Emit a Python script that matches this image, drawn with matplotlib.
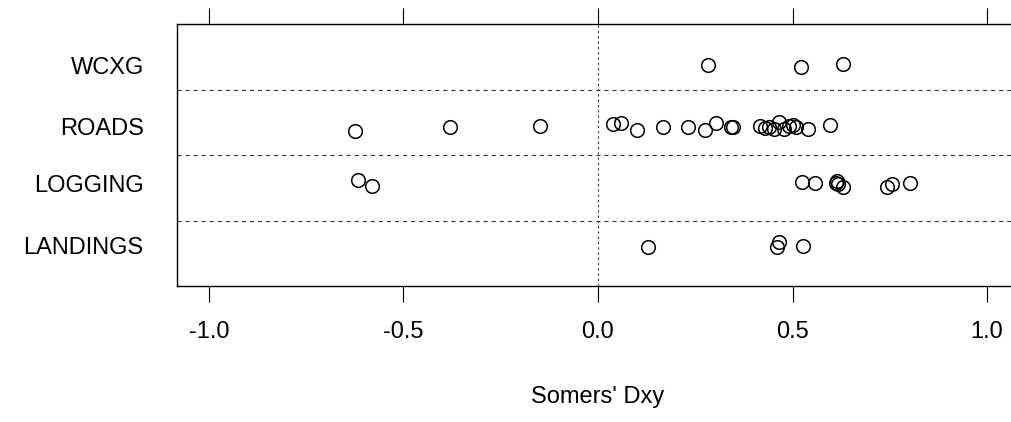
import matplotlib
matplotlib.use("Agg")
import matplotlib.pyplot as plt

# groups, top to bottom as drawn
groups = ['WCXG', 'ROADS', 'LOGGING', 'LANDINGS']
group_y = [3.37, 2.43, 1.57, 0.62]

# Somers' Dxy values and jittered row positions
wcxg_x = [0.283, 0.522, 0.630]
wcxg_y = [3.374, 3.344, 3.389]

roads_x = [-0.625, -0.380, -0.149, 0.038, 0.058, 0.100, 0.167, 0.231, 0.275,
           0.303, 0.343, 0.347, 0.416, 0.430, 0.440, 0.452, 0.465, 0.478,
           0.490, 0.500, 0.510, 0.540, 0.596]
roads_y = [2.366, 2.427, 2.443, 2.473, 2.489, 2.382, 2.427, 2.427, 2.382,
           2.489, 2.427, 2.427, 2.443, 2.412, 2.427, 2.397, 2.504, 2.397,
           2.443, 2.458, 2.427, 2.397, 2.458]

logging_x = [-0.617, -0.581, 0.524, 0.558, 0.612, 0.615, 0.618, 0.630,
             0.743, 0.756, 0.802]
logging_y = [1.618, 1.527, 1.588, 1.573, 1.573, 1.603, 1.557, 1.511,
             1.511, 1.557, 1.573]

landings_x = [0.129, 0.460, 0.466, 0.527]
landings_y = [0.595, 0.595, 0.672, 0.611]

xticks = [-1.0, -0.5, 0.0, 0.5, 1.0]

plt.rcParams['font.family'] = ['Liberation Sans', 'DejaVu Sans']
plt.rcParams['lines.scale_dashes'] = False

fig = plt.figure(figsize=(10.12, 4.22), dpi=100)
ax = fig.add_axes([177 / 1012, 1 - 286 / 422, 842 / 1012, 262 / 422])

for xs, ys in [(wcxg_x, wcxg_y), (roads_x, roads_y),
               (logging_x, logging_y), (landings_x, landings_y)]:
    ax.plot(xs, ys, 'o', ms=9.8, mfc='none', mec='black', mew=1.1)

for yy in [1, 2, 3]:
    ax.axhline(yy, color='#333333', lw=0.8, linestyle=(0, (2.9, 2.9)))
ax.axvline(0, color='#333333', lw=0.8, linestyle=(0, (1.6, 2.2)))

ax.set_xlim(-1.082, 1.082)
ax.set_ylim(0, 4)
ax.set_xticks(xticks)
ax.set_xticklabels(['%.1f' % v for v in xticks])
ax.tick_params(axis='x', which='both', top=True, bottom=True, direction='out',
               length=11.5, width=0.8, labelsize=17, pad=14)
ax.set_yticks(group_y)
ax.set_yticklabels(groups)
ax.tick_params(axis='y', length=0, labelsize=17, pad=24)
for s in ax.spines.values():
    s.set_linewidth(1.0)
ax.set_xlabel("Somers' Dxy", fontsize=17, labelpad=31)

fig.savefig('out.png', dpi=100)
